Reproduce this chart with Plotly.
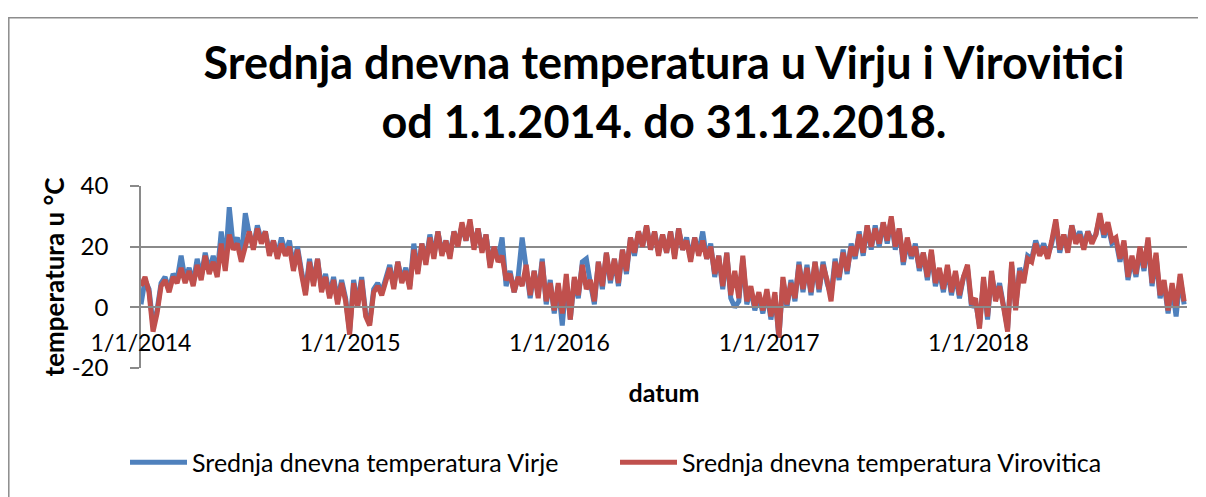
import pandas as pd
import plotly.graph_objects as go

# Weekly readings (every 7 days starting 1.1.2014), values in °C
start_date = "2014-01-01"
n_weeks = 261

virje = [
    # 2014
    1, 9, 6, -6, -1, 8, 10, 6, 11, 9, 17, 9, 13, 8, 16, 10, 18, 12, 17, 11, 25, 14, 33, 20, 23, 16,
    31, 24, 20, 27, 22, 25, 18, 22, 17, 23, 18, 22, 13, 20, 12, 5, 16, 8, 16, 6, 11, 4, 10, 2, 9, 3,
    # 2015
    -8, 9, 1, 10, -2, -5, 6, 8, 5, 9, 14, 7, 15, 9, 13, 7, 21, 12, 21, 15, 24, 17, 25, 18, 22, 17,
    25, 21, 27, 22, 28, 20, 26, 19, 24, 14, 20, 16, 23, 7, 12, 5, 10, 23, 13, 3, 12, 4, 16, 1, 9, -2,
    # 2016
    7, -6, 9, -4, 9, 3, 15, 16, 8, 1, 15, 6, 18, 8, 16, 7, 19, 11, 23, 17, 25, 20, 27, 19, 25, 18,
    24, 18, 25, 17, 26, 19, 23, 16, 23, 18, 25, 16, 21, 10, 17, 6, 18, 3, 0, 2, 16, 1, 6, -1, 4, -2,
    # 2017
    5, -4, 4, -10, 9, 0, 9, 2, 15, 5, 14, 4, 15, 5, 15, 8, 4, 16, 9, 19, 11, 21, 16, 25, 17, 27,
    19, 27, 20, 28, 21, 29, 19, 26, 14, 22, 16, 21, 12, 18, 9, 18, 7, 12, 5, 13, 4, 11, 3, 10, 13, 0,
    # 2018
    2, -6, 9, -4, 11, 3, 8, 1, -7, 14, 0, 13, 9, 17, 16, 22, 18, 21, 17, 21, 28, 18, 24, 19, 27, 22,
    25, 20, 25, 22, 24, 30, 23, 27, 21, 22, 15, 21, 9, 16, 10, 19, 12, 22, 7, 17, 3, 8, -2, 7, -3, 10, 1,
]

virovitica = [
    # 2014
    7, 10, 5, -8, -2, 7, 9, 5, 10, 8, 13, 8, 12, 7, 14, 9, 17, 11, 15, 10, 21, 12, 24, 19, 21, 15,
    20, 25, 19, 26, 21, 25, 17, 22, 16, 21, 17, 20, 12, 19, 11, 4, 15, 7, 16, 5, 10, 3, 9, 1, 8, 2,
    # 2015
    -9, 8, 0, 9, -3, -6, 5, 7, 4, 9, 13, 6, 15, 8, 12, 6, 19, 11, 21, 14, 23, 16, 25, 17, 22, 16,
    25, 20, 28, 22, 29, 19, 26, 18, 24, 13, 20, 15, 17, 9, 11, 5, 10, 7, 14, 4, 12, 3, 15, 2, 8, -1,
    # 2016
    8, -2, 11, -4, 10, 4, 14, 6, 9, 2, 15, 7, 18, 9, 16, 8, 19, 12, 23, 18, 25, 20, 27, 19, 25, 17,
    24, 18, 25, 16, 26, 19, 22, 15, 23, 17, 22, 16, 20, 11, 17, 7, 18, 4, 12, 3, 17, 2, 7, 0, 5, -1,
    # 2017
    6, -3, 5, -10, 10, 1, 8, 3, 14, 6, 13, 5, 15, 6, 14, 9, 2, 15, 10, 18, 12, 20, 17, 24, 18, 27,
    20, 26, 21, 28, 22, 30, 20, 26, 15, 23, 17, 20, 13, 18, 10, 19, 8, 13, 6, 14, 5, 12, 4, 10, 14, 1,
    # 2018
    3, -7, 10, -3, 12, 2, 7, 0, -8, 15, -1, 12, 8, 16, 15, 21, 17, 20, 16, 22, 29, 19, 24, 18, 27, 21,
    24, 19, 25, 21, 24, 31, 24, 28, 22, 23, 16, 22, 10, 17, 11, 20, 13, 23, 8, 18, 4, 9, -1, 8, 0, 11, 2,
]

tick_dates = ["2014-01-01", "2015-01-01", "2016-01-01", "2017-01-01", "2018-01-01"]
tick_labels = ["1/1/2014", "1/1/2015", "1/1/2016", "1/1/2017", "1/1/2018"]
y_ticks = [-20, 0, 20, 40]
y_tick_labels = ["-20", "0", "20", "40"]

dates = pd.date_range(start_date, periods=n_weeks, freq="7D")

FONT = "Lato"
GRID = "#8a8a8a"

# page body has an 8px margin: figure is sized so that it fills the window
W, H = 1198, 489
L, R, T, B = 133, 19, 178, 126
PW = W - L - R
PH = H - T - B


def px_x(x):  # screenshot x -> paper x
    return (x - 8 - L) / PW


def px_y(y):  # screenshot y -> paper y
    return 1 - (y - 8 - T) / PH


fig = go.Figure()
fig.add_trace(go.Scatter(
    x=dates, y=virje, mode="lines",
    name="Srednja dnevna temperatura Virje",
    line=dict(color="#4F81BD", width=5),
    legend="legend", showlegend=True,
))
fig.add_trace(go.Scatter(
    x=dates, y=virovitica, mode="lines",
    name="Srednja dnevna temperatura Virovitica",
    line=dict(color="#C0504D", width=5),
    legend="legend2", showlegend=True,
))

legend_common = dict(
    orientation="h", yanchor="middle", xanchor="left",
    font=dict(size=25, family=FONT, color="black"),
    itemwidth=57, bgcolor="rgba(0,0,0,0)", visible=True,
)

fig.update_layout(
    width=W, height=H,
    margin=dict(l=L, r=R, t=T, b=B),
    paper_bgcolor="white", plot_bgcolor="white",
    font=dict(family=FONT, color="black"),
    showlegend=True,
    title=dict(
        text="<b>Srednja dnevna temperatura u Virju i Virovitici<br>od 1.1.2014. do 31.12.2018.</b>",
        font=dict(family=FONT, size=45, color="black"),
        x=0.5, xref="paper", xanchor="center",
        y=1 - (79 - 8) / H, yref="container", yanchor="middle",
    ),
    xaxis=dict(
        type="date",
        range=["2014-01-01", "2018-12-31"],
        tickvals=tick_dates, ticktext=tick_labels,
        tickfont=dict(size=23, family=FONT, color="black"),
        showgrid=False, zeroline=False,
        anchor="free", position=1 / 3,
        showline=True, linecolor=GRID, linewidth=1.5,
        ticks="", ticklabelstandoff=15,
        title=dict(text="<b>datum</b>", font=dict(size=25, family=FONT, color="black"), standoff=29),
    ),
    yaxis=dict(
        range=[-20, 40], tickvals=y_ticks, ticktext=y_tick_labels,
        tickfont=dict(size=24, family=FONT, color="black"),
        showgrid=True, gridcolor=GRID, gridwidth=1.5,
        zeroline=False,
        showline=True, linecolor=GRID, linewidth=1.5,
        ticks="outside", ticklen=9, tickcolor=GRID, tickwidth=1.5,
        ticklabelstandoff=17,
        title=dict(text="<b>temperatura u °C</b>", font=dict(size=26, family=FONT, color="black"), standoff=0),
    ),
    legend=dict(legend_common, x=px_x(125), y=px_y(467)),
    legend2=dict(legend_common, x=px_x(615), y=px_y(467)),
    shapes=[dict(
        type="rect", xref="paper", yref="paper",
        x0=px_x(8.8), x1=px_x(1200),
        y0=px_y(530), y1=px_y(15),
        line=dict(color="#8c8c8c", width=1.5), fillcolor="rgba(0,0,0,0)", layer="below",
    )],
)

fig.write_html("out.html")
